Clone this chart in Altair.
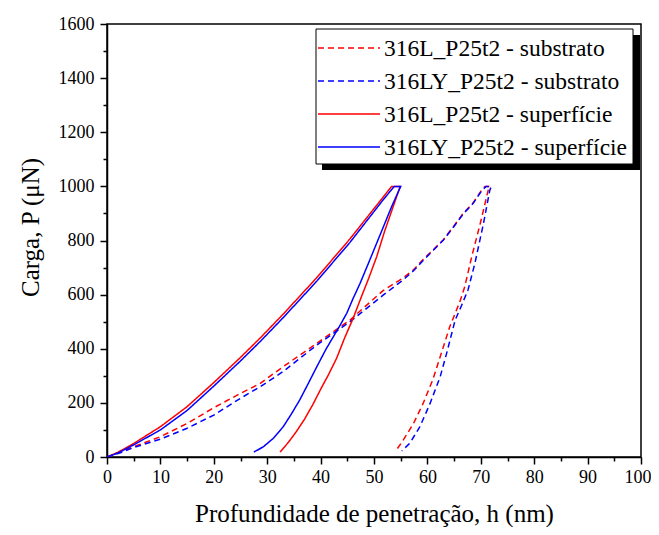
import altair as alt
import pandas as pd

series = ["316L_P25t2 - substrato", "316LY_P25t2 - substrato",
          "316L_P25t2 - superfície", "316LY_P25t2 - superfície"]
colors = ["#ff0000", "#0000ff", "#ff0000", "#0000ff"]
dashes = [[6, 4], [6, 4], [1, 0], [1, 0]]
widths = [1.5, 1.5, 2.0, 2.0]

# 316L substrato (red dashed)
h_sub_L = [0, 2.5, 5, 10, 15, 20, 25, 28.7, 33, 39.3, 45.5, 51.7, 55.5, 57.4, 59.2, 61.1, 63.0, 64.9,
           66.7, 68.6, 70.2, 70.8, 71.7,
           71.4, 69.9, 68.3, 67.0, 66.1, 64.2, 62.6, 61.0, 59.2, 57.4, 55.5, 54.2]
P_sub_L = [0, 18, 38, 75, 124, 182, 235, 272, 334, 420, 506, 615, 662, 692, 730, 766, 803, 852,
           900, 940, 988, 1000, 1000,
           987, 863, 740, 630, 575, 482, 383, 285, 198, 124, 63, 26]
# 316LY substrato (blue dashed)
h_sub_LY = [0, 2.5, 5, 10, 15, 20, 25, 28.7, 33, 39.3, 45.5, 51.7, 55.5, 57.4, 59.2, 61.1, 63.0, 64.9,
            66.7, 68.6, 70.2, 71.0, 72.0,
            71.7, 70.5, 68.9, 67.6, 66.4, 65.2, 63.6, 62.4, 60.5, 58.6, 56.7, 55.2]
P_sub_LY = [0, 16, 35, 66, 106, 155, 217, 260, 316, 414, 500, 598, 655, 688, 726, 764, 802, 850,
            898, 938, 985, 1000, 1000,
            987, 863, 716, 617, 560, 506, 383, 297, 198, 112, 51, 22]
# 316L superficie (red solid)
h_sup_L = [0, 2, 5, 10, 15, 20, 25, 28.7, 33, 39.3, 45.5, 51.7, 53.3, 54.9,
           53.5, 52.0, 50.5, 49.0, 47.5, 46.0, 44.5, 43.0, 41.5, 40.0, 38.5, 37.0, 35.5, 34.0, 32.4]
P_sup_L = [0, 17, 50, 112, 186, 275, 368, 440, 528, 663, 806, 960, 1000, 1000,
           920, 835, 740, 660, 585, 508, 440, 365, 305, 250, 192, 140, 95, 55, 18]
# 316LY superficie (blue solid)
h_sup_LY = [0, 2, 5, 10, 15, 20, 25, 28.7, 33, 39.3, 45.5, 51.7, 53.8, 55.0,
            53.3, 51.5, 50.5, 49.0, 47.4, 46.0, 44.9, 43.6, 42.4, 41.0, 39.3, 37.7, 36.1, 34.5, 33.0,
            31.2, 29.3, 27.5]
P_sup_LY = [0, 14, 45, 100, 172, 262, 355, 427, 515, 650, 793, 950, 1000, 1000,
            925, 838, 790, 718, 642, 582, 531, 485, 445, 398, 334, 272, 211, 158, 112,
            70, 38, 18]

x_ticks = list(range(0, 101, 5))
y_ticks = list(range(0, 1601, 100))

rows = []
for name, hs, ps in zip(series, [h_sub_L, h_sub_LY, h_sup_L, h_sup_LY],
                        [P_sub_L, P_sub_LY, P_sup_L, P_sup_LY]):
    for i, (h, p) in enumerate(zip(hs, ps)):
        rows.append({"series": name, "h": h, "P": p, "order": i})
df = pd.DataFrame(rows)
leg_df = pd.DataFrame({"series": series})
one = pd.DataFrame({"k": [0]})

FONT = "Liberation Serif, 'Times New Roman', Times, DejaVu Serif, serif"
color_scale = alt.Scale(domain=series, range=colors)
dash_scale = alt.Scale(domain=series, range=dashes)
width_scale = alt.Scale(domain=series, range=widths)

x_axis = alt.Axis(
    values=x_ticks, format="d",
    labelExpr="datum.value % 10 == 0 ? datum.label : ''",
    tickSize={"condition": {"test": "datum.value % 10 == 0", "value": 7}, "value": 4},
    labelAlign={"condition": {"test": "datum.value == 100", "value": "right"}, "value": "center"},
    labelOffset={"condition": {"test": "datum.value == 100", "value": 10}, "value": 0},
    tickColor="black", tickWidth=1.5, domainColor="black", domainWidth=1.5,
    labelFont=FONT, labelFontSize=18, labelColor="black", labelPadding=4,
    labelFlush=False, labelOverlap=False, grid=False,
    title="Profundidade de penetração, h (nm)", titleFont=FONT, titleFontSize=25,
    titleFontWeight="normal", titleColor="black", titlePadding=15,
)
y_axis = alt.Axis(
    values=y_ticks, format="d",
    labelExpr="datum.value % 200 == 0 ? datum.label : ''",
    tickSize={"condition": {"test": "datum.value % 200 == 0", "value": 7}, "value": 4},
    tickColor="black", tickWidth=1.5, domainColor="black", domainWidth=1.5,
    labelFont=FONT, labelFontSize=18, labelColor="black", labelPadding=6,
    labelFlush=False, labelOverlap=False, grid=False,
    title="Carga, P (μN)", titleFont=FONT, titleFontSize=25,
    titleFontWeight="normal", titleColor="black", titlePadding=15, titleY=203,
)

lines = alt.Chart(df).mark_line(clip=True).encode(
    x=alt.X("h:Q", scale=alt.Scale(domain=[0, 100], nice=False), axis=x_axis),
    y=alt.Y("P:Q", scale=alt.Scale(domain=[0, 1600], nice=False), axis=y_axis),
    color=alt.Color("series:N", scale=color_scale, legend=None),
    strokeDash=alt.StrokeDash("series:N", scale=dash_scale, legend=None),
    strokeWidth=alt.StrokeWidth("series:N", scale=width_scale, legend=None),
    order="order:Q",
)

shadow = alt.Chart(one).mark_rect(fill="black").encode(
    x=alt.value(215), x2=alt.value(533), y=alt.value(11), y2=alt.value(146))
box = alt.Chart(one).mark_rect(fill="white", stroke="black", strokeWidth=1).encode(
    x=alt.value(209), x2=alt.value(526), y=alt.value(5), y2=alt.value(140))

leg_y = alt.Y("series:N", scale=alt.Scale(type="point", domain=series, range=[24, 123], padding=0),
              axis=None)
leg_rules = alt.Chart(leg_df).mark_rule().encode(
    x=alt.value(211), x2=alt.value(273), y=leg_y,
    color=alt.Color("series:N", scale=color_scale, legend=None),
    strokeDash=alt.StrokeDash("series:N", scale=dash_scale, legend=None),
    strokeWidth=alt.StrokeWidth("series:N", scale=width_scale, legend=None),
)
leg_text = alt.Chart(leg_df).mark_text(
    align="left", baseline="middle", font=FONT, fontSize=23.5, color="black", dy=1
).encode(x=alt.value(277), y=leg_y, text="series:N")

chart = alt.layer(shadow, box, lines, leg_rules, leg_text).resolve_scale(
    y="independent"
).properties(
    width=534, height=433,
    autosize=alt.AutoSizeParams(type="none"),
    padding={"left": 99, "top": 16, "right": 10, "bottom": 70},
).configure_view(stroke="black", strokeWidth=1.5)

chart.save("out.html", embed_options={"renderer": "svg", "actions": False})
